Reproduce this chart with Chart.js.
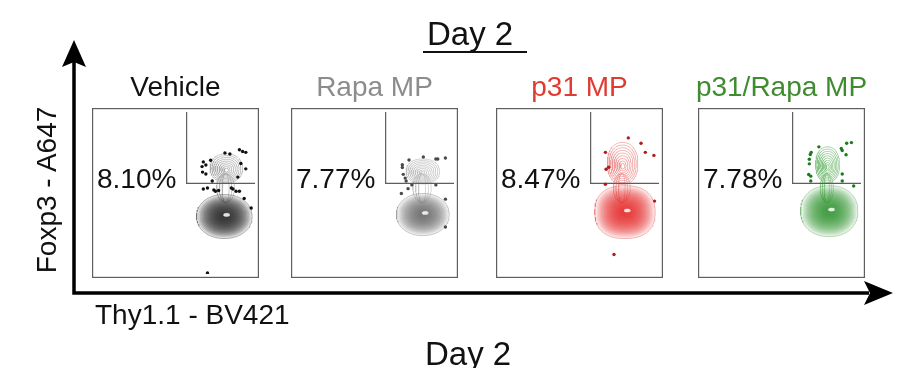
<!DOCTYPE html>
<html><head><meta charset="utf-8">
<script src="https://cdn.jsdelivr.net/npm/chart.js@4.4.0/dist/chart.umd.min.js"></script>
<style>
html,body{margin:0;padding:0;background:#fff;}
#wrap{position:relative;width:902px;height:368px;overflow:hidden;font-family:"Liberation Sans",Arial,Helvetica,sans-serif;}
.t{position:absolute;white-space:nowrap;line-height:1;}
canvas{position:absolute;}
</style></head><body><div id="wrap">
<canvas id="frame" width="902" height="368" style="left:0;top:0"></canvas>
</div>
<script>
// ---------- data ----------
const mainTitle = 'Day 2';
const xAxisTitle = 'Thy1.1 - BV421';
const yAxisTitle = 'Foxp3 - A647';
const panelTitles = ['Vehicle', 'Rapa MP', 'p31 MP', 'p31/Rapa MP'];
const percentLabels = ['8.10%', '7.77%', '8.47%', '7.78%'];
// quadrant gate (Thy1.1 threshold, Foxp3 threshold) in axis units 0..100
const gateX = [57, 57, 57, 57];
const gateY = [56, 56, 56, 56];
// Foxp3- population contour (centre x, centre y, radius x, radius y)
const lowerPop = [[80.7, 35.5, 17.5, 13.6], [80.4, 36.7, 16.6, 13.0], [78.6, 38.2, 19.0, 16.3], [80.0, 38.8, 18.0, 15.7]];
// Foxp3+ population contour
const upperPop = [[82.0, 65.3, 10.2, 8.9], [80.4, 63.3, 10.5, 7.7], [77.1, 68.2, 9.6, 13.0], [79.0, 67.5, 7.5, 11.0]];
// outlying events
const dotsVehicle = [[67.5,69.2],[66.7,66.3],[69.1,67.3],[67.0,62.9],[69.1,61.7],[72.1,70.2],[73.1,57.4],[81.1,74.7],[84.2,74.1],[90.2,76.7],[92.2,75.6],[94.2,75.1],[91.1,68.2],[94.2,64.9],[89.2,59.8],[67.5,52.5],[70.1,53.1],[74.1,51.9],[75.1,51.1],[77.1,51.5],[85.1,53.1],[86.1,52.5],[88.1,51.1],[90.2,51.1],[93.2,46.6],[97.6,40.7],[70.1,0.6]];
const dotsRapa = [[71.7,70.4],[80.7,72.2],[88.6,71.0],[89.8,71.0],[94.6,71.6],[67.5,67.5],[67.5,65.7],[68.1,61.5],[69.3,59.2],[69.9,57.4],[73.5,55.0],[71.1,52.7],[66.9,49.7],[88.6,55.0],[94.6,46.2],[94.6,29.0]];
const dotsP31 = [[80.7,84.0],[88.7,80.7],[91.4,75.1],[96.8,73.2],[66.3,75.1],[68.3,65.9],[66.7,64.7],[66.3,55.4],[97.2,45.0],[71.7,12.0]];
const dotsP31Rapa = [[73.5,78.5],[68.7,75.1],[68.1,73.8],[67.5,70.8],[67.5,68.0],[67.1,61.4],[68.4,60.4],[68.4,57.4],[87.6,77.5],[88.2,76.2],[91.0,80.7],[94.0,81.1],[90.6,73.6],[88.2,61.7],[88.2,57.4],[95.4,54.3]];
const panelDots = [dotsVehicle, dotsRapa, dotsP31, dotsP31Rapa];

// ---------- styles ----------
const titleColors = ['#111111', '#8c8c8c', '#df3b31', '#3e8c2f'];
const dotColors = ['#111111', '#4a4a4a', '#b01c1c', '#1c7a1c'];
const fillRGB = [[35,35,35], [100,100,100], [226,40,40], [45,150,45]];
const fillAlpha = [0.13, 0.1, 0.11, 0.11];
const upperLine = ['#a8a8a8', '#bdbdbd', '#ee9494', '#82c282'];
const squareness = [2.1, 2.1, 2.4, 2.2];
const panelLeft = [92, 291, 496, 698];
const panelTop = 108, panelW = 167, panelH = 170;

const wrap = document.getElementById('wrap');
function addText(txt, css) {
  const d = document.createElement('div');
  d.className = 't';
  d.textContent = txt;
  Object.assign(d.style, css);
  wrap.appendChild(d);
  return d;
}

// shape outline of a contour level (superellipse)
function ring(cx, cy, rx, ry, p) {
  const pts = [];
  const n = 90;
  for (let i = 0; i <= n; i++) {
    const t = i / n * 2 * Math.PI;
    const c = Math.cos(t), s = Math.sin(t);
    pts.push({ x: cx + rx * Math.sign(c) * Math.pow(Math.abs(c), 2 / p),
               y: cy + ry * Math.sign(s) * Math.pow(Math.abs(s), 2 / p) });
  }
  return pts;
}

// ---------- frame with arrows ----------
const arrowPlugin = {
  id: 'arrows',
  afterDraw(chart) {
    const { ctx, chartArea: a } = chart;
    ctx.save();
    ctx.strokeStyle = '#000';
    ctx.fillStyle = '#000';
    ctx.lineWidth = 3.5;
    ctx.beginPath();
    ctx.moveTo(a.left, a.top + 22);
    ctx.lineTo(a.left, a.bottom);
    ctx.lineTo(a.right - 24, a.bottom);
    ctx.stroke();
    ctx.beginPath();
    ctx.moveTo(a.left, a.top);
    ctx.lineTo(a.left - 12, a.top + 27);
    ctx.lineTo(a.left, a.top + 22);
    ctx.lineTo(a.left + 12, a.top + 27);
    ctx.closePath();
    ctx.fill();
    ctx.beginPath();
    ctx.moveTo(a.right, a.bottom);
    ctx.lineTo(a.right - 29, a.bottom - 12);
    ctx.lineTo(a.right - 23, a.bottom);
    ctx.lineTo(a.right - 29, a.bottom + 12);
    ctx.closePath();
    ctx.fill();
    ctx.restore();
  }
};
new Chart(document.getElementById('frame'), {
  type: 'scatter',
  data: { datasets: [] },
  options: {
    responsive: false, animation: false,
    layout: { padding: { left: 74, top: 40, right: 9, bottom: 75 } },
    scales: { x: { display: false, min: 0, max: 1 }, y: { display: false, min: 0, max: 1 } },
    plugins: { legend: { display: false }, tooltip: { enabled: false } }
  },
  plugins: [arrowPlugin]
});

// ---------- panels ----------
const borderPlugin = {
  id: 'box',
  afterDraw(chart) {
    const { ctx, width, height } = chart;
    ctx.save();
    ctx.strokeStyle = '#5e5e5e';
    ctx.lineWidth = 1.2;
    ctx.strokeRect(0.6, 0.6, width - 1.2, height - 1.2);
    ctx.restore();
  }
};

const lowerLevels = [1, 0.95, 0.9, 0.85, 0.8, 0.75, 0.7, 0.65, 0.6, 0.55, 0.5, 0.45, 0.4, 0.35, 0.3, 0.25, 0.2, 0.15];
const upperLevels = [1, 0.89, 0.78, 0.67, 0.56, 0.45, 0.34, 0.23, 0.13];

for (let k = 0; k < 4; k++) {
  const cv = document.createElement('canvas');
  cv.width = panelW; cv.height = panelH;
  cv.style.left = panelLeft[k] + 'px';
  cv.style.top = panelTop + 'px';
  wrap.appendChild(cv);

  const ds = [];
  ds.push({ type: 'scatter', data: panelDots[k].map(d => ({ x: d[0], y: d[1] })),
    pointRadius: 1.7, pointBackgroundColor: dotColors[k], pointBorderWidth: 0, order: 0 });
  ds.push({ type: 'line', data: [{ x: gateX[k], y: 100 }, { x: gateX[k], y: gateY[k] }, { x: 100, y: gateY[k] }],
    borderColor: '#5e5e5e', borderWidth: 1.2, pointRadius: 0, fill: false, tension: 0, order: 1 });
  const [ux, uy, urx, ury] = upperPop[k];
  upperLevels.forEach((f) => {
    ds.push({ type: 'line', data: ring(ux, uy - (1 - f) * ury * 0.15, urx * f, ury * f, 2.2),
      borderColor: upperLine[k], borderWidth: 0.7, pointRadius: 0, fill: false, tension: 0, order: 2 });
  });
  // neck between populations (under the Foxp3- density)
  [1, 0.7, 0.4].forEach(f => {
    ds.push({ type: 'line', data: ring(ux - 0.5, gateY[k] - 3, urx * 0.55 * f, 9, 2),
      borderColor: upperLine[k], borderWidth: 0.6, pointRadius: 0, fill: false, tension: 0, order: 5 });
  });
  const [lx, ly, lrx, lry] = lowerPop[k];
  ds.push({ type: 'line', data: ring(lx + 1.5, ly + 1, 1.9, 1.0, 2),
    borderColor: 'rgba(255,255,255,0.8)', backgroundColor: 'rgba(255,255,255,0.85)', borderWidth: 0.4,
    pointRadius: 0, fill: 'shape', tension: 0, order: 2.5 });
  const c = fillRGB[k];
  lowerLevels.forEach((f, i) => {
    ds.push({ type: 'line', data: ring(lx, ly, lrx * f, lry * f, squareness[k]),
      borderColor: i === 0 ? `rgba(${c[0]},${c[1]},${c[2]},0.45)` : 'rgba(255,255,255,0.35)',
      backgroundColor: `rgba(${c[0]},${c[1]},${c[2]},${fillAlpha[k]})`,
      borderWidth: 0.7, pointRadius: 0, fill: 'shape', tension: 0, order: 3 });
  });

  new Chart(cv, {
    type: 'scatter',
    data: { datasets: ds },
    options: {
      responsive: false, animation: false,
      layout: { padding: 0 },
      scales: { x: { display: false, min: 0, max: 100 }, y: { display: false, min: 0, max: 100 } },
      plugins: { legend: { display: false }, tooltip: { enabled: false } }
    },
    plugins: [borderPlugin]
  });

  addText(panelTitles[k], { left: (panelLeft[k] + panelW / 2 - 120) + 'px', width: '240px', textAlign: 'center',
    top: '73px', fontSize: '28px', color: titleColors[k] });
  addText(percentLabels[k], { left: (panelLeft[k] + 5) + 'px', top: '165px', fontSize: '28px', color: '#111' });
}

// ---------- titles ----------
addText(mainTitle, { left: '427px', top: '17px', fontSize: '33px', color: '#111' });
const ul = document.createElement('div');
Object.assign(ul.style, { position: 'absolute', left: '423px', top: '51px', width: '104px', height: '0', borderTop: '2.4px solid #111' });
wrap.appendChild(ul);
addText(mainTitle, { left: '425px', top: '337px', fontSize: '33px', color: '#111' });
addText(xAxisTitle, { left: '95px', top: '301px', fontSize: '28px', color: '#111' });
addText(yAxisTitle, { left: '-53px', top: '176px', width: '200px', height: '28px', textAlign: 'center',
  fontSize: '28px', color: '#111', transform: 'rotate(-90deg)', transformOrigin: '50% 50%' });
</script>
</body></html>
